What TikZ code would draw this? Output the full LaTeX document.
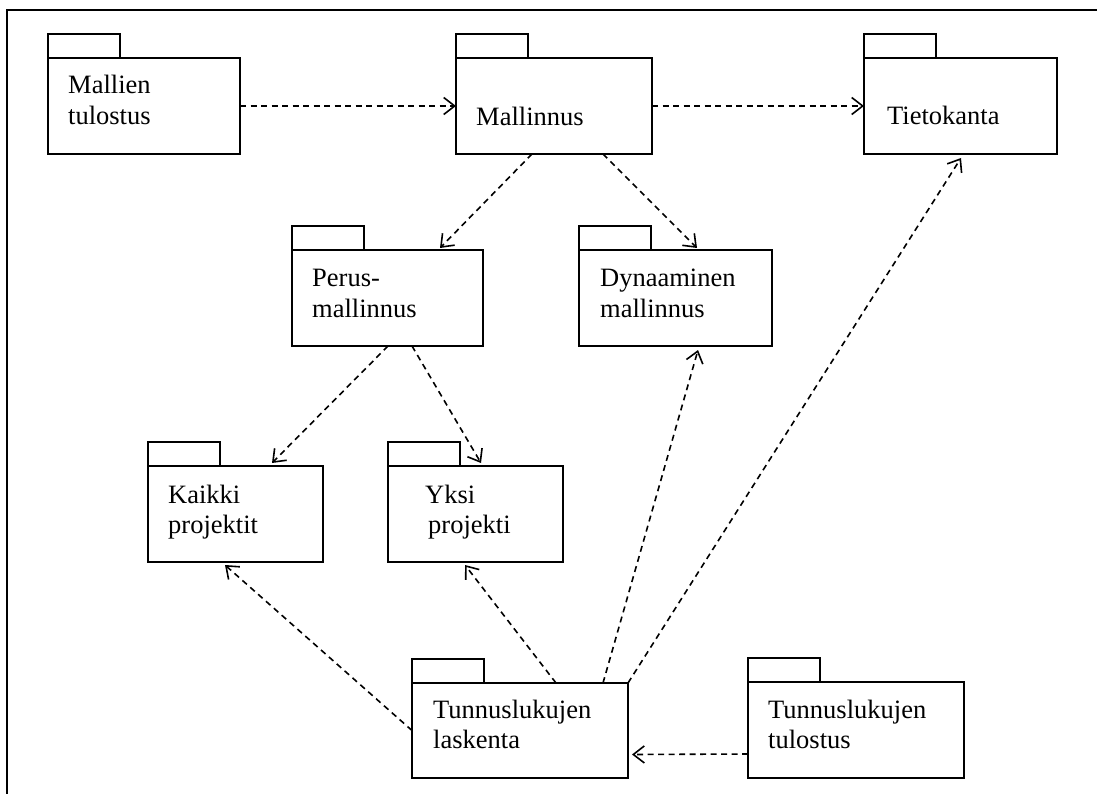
\documentclass[tikz,border=0pt]{standalone}
\usepackage{fontspec}
\setmainfont{Liberation Serif}
\usetikzlibrary{arrows.meta}
\begin{document}
\begin{tikzpicture}[x=1pt,y=-1pt,
  pkgbody/.style={draw, line width=1.8pt, anchor=north west, inner sep=0pt, outer sep=0pt, minimum height=96pt},
  pkgtab/.style={draw, line width=1.8pt, anchor=south west, inner sep=0pt, outer sep=0pt, minimum width=72pt, minimum height=24pt},
  lbl/.style={anchor=base west, inner sep=0pt, font=\fontsize{26.5}{31}\selectfont},
  dep/.style={line width=1.6pt, dash pattern=on 6pt off 4.5pt, -{Straight Barb[length=11pt,width=17pt,line width=1.6pt]}},
  frameline/.style={line width=2pt}]
\useasboundingbox (0,0) rectangle (1097,794);

% outer frame (top and left edges)
\coordinate (fa) at (7,794);
\coordinate (fb) at (7,10);
\coordinate (fc) at (1097,10);
\draw[frameline] (fa) -- (fb) -- (fc);

% package bodies
\node[pkgbody, minimum width=192pt] (mt) at (48,58) {};
\node[pkgbody, minimum width=196pt] (ma) at (456,58) {};
\node[pkgbody, minimum width=193pt] (tk) at (864,58) {};
\node[pkgbody, minimum width=191pt] (pm) at (292,250) {};
\node[pkgbody, minimum width=193pt] (dm) at (579,250) {};
\node[pkgbody, minimum width=175pt] (kp) at (148,466) {};
\node[pkgbody, minimum width=175pt] (yp) at (388,466) {};
\node[pkgbody, minimum width=216pt, minimum height=95pt] (tl) at (412,683) {};
\node[pkgbody, minimum width=216pt] (tt) at (748,682) {};

% package tabs
\foreach \p in {mt,ma,tk,pm,dm,kp,yp,tl,tt}
  \node[pkgtab] (\p tab) at (\p.north west) {};

% package names
\node[lbl] (mtA) at (68,94) {Mallien};
\node[lbl] (mtB) at (68,125) {tulostus};
\node[lbl] (maA) at (476,126) {Mallinnus};
\node[lbl] (tkA) at (887,125) {Tietokanta};
\node[lbl] (pmA) at (312,287) {Perus-};
\node[lbl] (pmB) at (312,317) {mallinnus};
\node[lbl] (dmA) at (600,287) {Dynaaminen};
\node[lbl] (dmB) at (600,317) {mallinnus};
\node[lbl] (kpA) at (168,503) {Kaikki};
\node[lbl] (kpB) at (168,533) {projektit};
\node[lbl] (ypA) at (425,503) {Yksi};
\node[lbl] (ypB) at (428,533) {projekti};
\node[lbl] (tlA) at (433,718) {Tunnuslukujen};
\node[lbl] (tlB) at (433,748) {laskenta};
\node[lbl] (ttA) at (768,718) {Tunnuslukujen};
\node[lbl] (ttB) at (768,748) {tulostus};

% dependencies
\draw[dep] (mt.east) -- (ma.west);
\draw[dep] (ma.east) -- (tk.west);
\draw[dep] ([xshift=76pt]ma.south west) -- ([xshift=148pt,yshift=2pt]pm.north west);
\draw[dep] ([xshift=147pt]ma.south west) -- ([xshift=118pt,yshift=2pt]dm.north west);
\draw[dep] ([xshift=96pt]pm.south west) -- ([xshift=124pt,yshift=3pt]kp.north west);
\draw[dep] ([xshift=120pt]pm.south west) -- ([xshift=93pt,yshift=3pt]yp.north west);
\draw[dep] (tl.west) -- ([xshift=77pt,yshift=-3pt]kp.south west);
\draw[dep] ([xshift=144pt]tl.north west) -- ([xshift=77pt,yshift=-3pt]yp.south west);
\draw[dep] ([xshift=191pt]tl.north west) -- ([xshift=119pt,yshift=-4pt]dm.south west);
\draw[dep] (tl.north east) -- ([xshift=97pt,yshift=-4pt]tk.south west);
\draw[dep] ([yshift=-24pt]tt.west) -- ([xshift=4pt,yshift=-24pt]tl.east);
\end{tikzpicture}
\end{document}
